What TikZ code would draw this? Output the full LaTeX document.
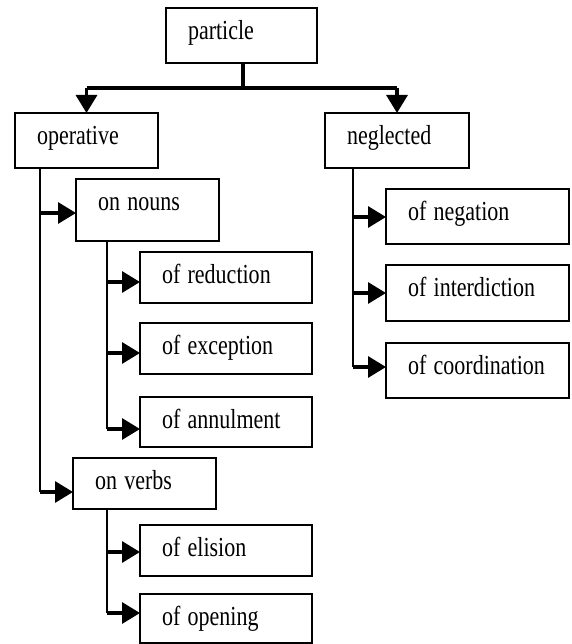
\documentclass[tikz,border=0pt]{standalone}
\usepackage{fontspec}
\usepackage{graphicx}
\setmainfont{Liberation Serif}
\usetikzlibrary{arrows.meta}
\newcommand\sqz[1]{\scalebox{0.8}[1]{#1}}
\tikzset{
  box/.style={draw, line width=1.4pt, anchor=north west, inner xsep=22pt, inner ysep=0pt,
    outer sep=0pt, text height=31.5pt, align=left,
    font=\fontsize{27.5}{30}\selectfont},
  vline/.style={line width=2.2pt},
  barline/.style={line width=3.2pt},
  stubarrow/.style={line width=3.2pt, -{Triangle[length=18pt,width=21pt]}},
}
\begin{document}
\begin{tikzpicture}[x=1pt,y=-1pt]
\useasboundingbox (0,0) rectangle (571,644);
% boxes
\node[box, text width=107pt, text depth=23.5pt] (particle) at (166,8) {\sqz{particle}};
\node[box, text width=99pt, text depth=23.5pt] (operative) at (15,113) {\sqz{operative}};
\node[box, text width=100pt, text depth=23.5pt] (neglected) at (325,113) {\sqz{neglected}};
\node[box, text width=99pt, text depth=30.5pt] (onnouns) at (76,179) {\sqz{on nouns}};
\node[box, text width=128pt, text depth=19.5pt] (reduction) at (140,252) {\sqz{of reduction}};
\node[box, text width=128pt, text depth=19.5pt] (exception) at (140,323) {\sqz{of exception}};
\node[box, text width=128pt, text depth=18.5pt] (annulment) at (140,397) {\sqz{of annulment}};
\node[box, text width=99pt, text depth=19.5pt] (onverbs) at (73,458) {\sqz{on verbs}};
\node[box, text width=128pt, text depth=19.5pt] (elision) at (140,525) {\sqz{of elision}};
\node[box, text width=128pt, text depth=17.5pt] (opening) at (140,594) {\sqz{of opening}};
\node[box, text width=139pt, text depth=23.5pt] (negation) at (386,189) {\sqz{of negation}};
\node[box, text width=139pt, text depth=24.5pt] (interdiction) at (386,265) {\sqz{of interdiction}};
\node[box, text width=139pt, text depth=23.5pt] (coordination) at (386,343) {\sqz{of coordination}};
% junction coordinates
\coordinate (bar) at (243,88);
\coordinate (opx) at (40,0);
\coordinate (nnx) at (107,0);
\coordinate (vbx) at (107,0);
\coordinate (ngx) at (353,0);
\coordinate (b1) at (0,213);
\coordinate (b2) at (0,492);
\coordinate (c1) at (0,282);
\coordinate (c2) at (0,353);
\coordinate (c3) at (0,429);
\coordinate (d1) at (0,552);
\coordinate (d2) at (0,613);
\coordinate (e1) at (0,217);
\coordinate (e2) at (0,293);
\coordinate (e3) at (0,367);
% top
\draw[barline] (particle.south -| bar) -- (bar);
\draw[barline] (operative.north |- bar) -- (neglected.north |- bar);
\draw[stubarrow] (operative.north |- bar) -- (operative.north);
\draw[stubarrow] (neglected.north |- bar) -- (neglected.north);
% operative
\draw[vline] (operative.south -| opx) -- (opx |- b2);
\draw[stubarrow] (opx |- b1) -- (onnouns.west |- b1);
\draw[stubarrow] (opx |- b2) -- (onverbs.west |- b2);
% on nouns
\draw[vline] (onnouns.south -| nnx) -- (nnx |- c3);
\draw[stubarrow] (nnx |- c1) -- (reduction.west |- c1);
\draw[stubarrow] (nnx |- c2) -- (exception.west |- c2);
\draw[stubarrow] (nnx |- c3) -- (annulment.west |- c3);
% on verbs
\draw[vline] (onverbs.south -| vbx) -- (vbx |- d2);
\draw[stubarrow] (vbx |- d1) -- (elision.west |- d1);
\draw[stubarrow] (vbx |- d2) -- (opening.west |- d2);
% neglected
\draw[vline] (neglected.south -| ngx) -- (ngx |- e3);
\draw[stubarrow] (ngx |- e1) -- (negation.west |- e1);
\draw[stubarrow] (ngx |- e2) -- (interdiction.west |- e2);
\draw[stubarrow] (ngx |- e3) -- (coordination.west |- e3);
\end{tikzpicture}
\end{document}
